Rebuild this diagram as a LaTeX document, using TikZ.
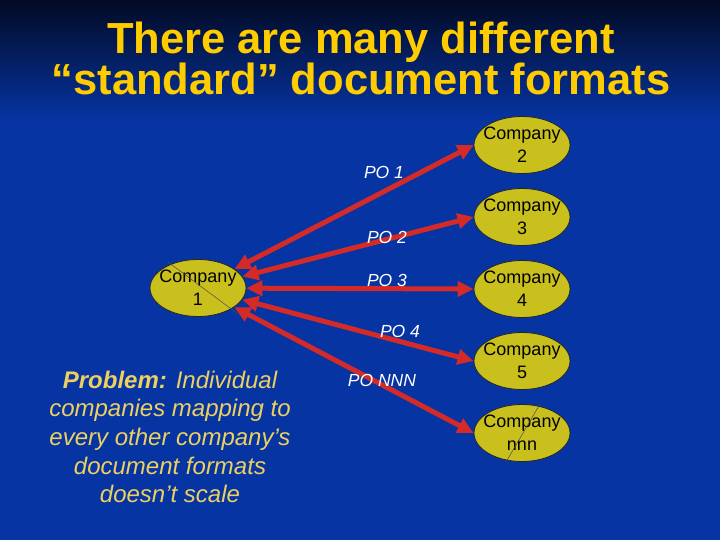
\documentclass[tikz,border=0pt]{standalone}
\usepackage{fontspec}
\setmainfont{Liberation Sans}
\usetikzlibrary{arrows.meta, shapes.geometric}
\usepackage{xcolor}
\definecolor{slideblue}{RGB}{6,52,162}
\definecolor{slidetop}{RGB}{2,10,36}
\definecolor{titlegold}{RGB}{255,204,0}
\definecolor{notegold}{RGB}{236,208,96}
\definecolor{companyfill}{RGB}{201,192,30}
\definecolor{linkred}{RGB}{212,42,40}

\begin{document}
\begin{tikzpicture}[x=1pt, y=-1pt,
		company/.style={ellipse, draw=black!85, line width=0.8pt, fill=companyfill,
			minimum width=96pt, minimum height=57pt, inner xsep=-5pt, inner ysep=-2pt, align=center,
			font=\fontsize{18}{23}\selectfont},
		link/.style={draw=linkred, line width=5pt,
			{Triangle[length=16pt,width=15pt]}-{Triangle[length=16pt,width=15pt]}},
		po/.style={text=white, font=\fontsize{17.5}{20}\selectfont\itshape}]
		\useasboundingbox (0,0) rectangle (720,540);
		\fill[slideblue] (0,0) rectangle (720,540);
		\shade[top color=slidetop, bottom color=slideblue] (0,0) rectangle (720,120);
		
		\node[text=titlegold, align=center, font=\fontsize{43.5}{41}\bfseries] (title) at (361,58)
			{There are many different\\“standard” document formats};
		
		\begin{scope}
			\node[company] (c1) at (198,288) {Company\\1};
			\node[company] (c2) at (522,145) {Company\\2};
			\node[company] (c3) at (522,217) {Company\\3};
			\node[company] (c4) at (522,289) {Company\\4};
			\node[company] (c5) at (522,361) {Company\\5};
			\node[company] (cn) at (522,433) {Company\\nnn};
			\draw[black!70, line width=0.5pt] (168,262) -- (238,314);
			\draw[black!70, line width=0.5pt] (540,404) -- (506,462);
		\end{scope}
		
		\begin{scope}
			\draw[link] (c1) -- (c2.west);
			\draw[link] (c1) -- (c3.west);
			\draw[link] (c1) -- (c4.west);
			\draw[link] (c1) -- (c5.west);
			\draw[link] (c1) -- (cn.west);
			\node[po] (po1) at (384,172) {PO 1};
			\node[po] (po2) at (387,237) {PO 2};
			\node[po] (po3) at (387,280) {PO 3};
			\node[po] (po4) at (400,331) {PO 4};
			\node[po] (pon) at (382,380) {PO NNN};
		\end{scope}
		
		\node[text=notegold, align=center, font=\fontsize{24}{28.7}\selectfont\itshape] (note) at (170,437)
			{\textbf{Problem:} Individual\\companies mapping to\\every other company’s\\document formats\\doesn’t scale};
	\end{tikzpicture}
\end{document}
